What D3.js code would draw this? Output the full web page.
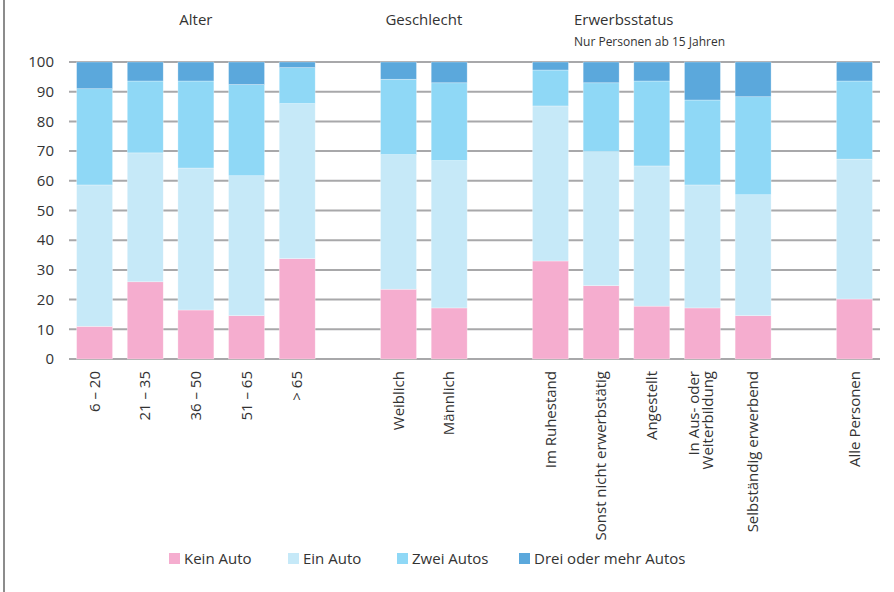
<!DOCTYPE html>
<html>
<head>
<meta charset="utf-8">
<script src="https://cdn.jsdelivr.net/npm/d3@7"></script>
<style>
  body { margin: 0; background: #fff; }
  svg text { font-family: "Open Sans", sans-serif; fill: #333; }
</style>
</head>
<body>
<div id="chart"></div>
<script>
// Categories (blank slots separate the groups)
const categories = ["6 – 20", "21 – 35", "36 – 50", "51 – 65", "> 65", "gap1",
    "Weiblich", "Männlich", "gap2",
    "Im Ruhestand", "Sonst nicht erwerbstätig", "Angestellt", "In Aus- oder|Weiterbildung", "Selbständig erwerbend", "gap3",
    "Alle Personen"];
const barCategories = categories.filter(c => !c.startsWith("gap"));

// Shares in percent, per series, same order as barCategories
const keinAuto  = [11, 26, 16.5, 14.6, 33.8, 23.5, 17.2, 33.0, 24.7, 17.8, 17.2, 14.6, 20.2];
const einAuto   = [47.6, 43.4, 47.8, 47.1, 52.2, 45.3, 49.6, 52.2, 45.1, 47.2, 41.4, 40.7, 47.1];
const zweiAutos = [32.4, 24.2, 29.3, 30.7, 12.1, 25.4, 26.2, 12.1, 23.2, 28.6, 28.6, 33.0, 26.3];
const dreiAutos = [9.0, 6.4, 6.4, 7.6, 1.9, 5.8, 7.0, 2.7, 7.0, 6.4, 12.8, 11.7, 6.4];

const seriesNames = ["Kein Auto", "Ein Auto", "Zwei Autos", "Drei oder mehr Autos"];
const colors = ["#F5ADCF", "#C6E9F8", "#8FD8F6", "#5BA8DC"];
const yTicks = [0, 10, 20, 30, 40, 50, 60, 70, 80, 90, 100];

const width = 894, height = 592;
const svg = d3.select("#chart").append("svg")
    .attr("width", width)
    .attr("height", height);

// left frame line
svg.append("line")
    .attr("x1", 4).attr("x2", 4).attr("y1", 0).attr("y2", height)
    .attr("stroke", "#8c8c8c").attr("stroke-width", 2);

const x = d3.scaleBand()
    .domain(categories)
    .range([69, 880])
    .paddingInner(0.29)
    .paddingOuter(0.15);

const y = d3.scaleLinear()
    .domain([0, 100])
    .range([359, 62]);

// Gridlines
svg.append("g")
    .selectAll("line")
    .data(yTicks)
    .enter().append("line")
    .attr("x1", 69).attr("x2", 880)
    .attr("y1", d => y(d)).attr("y2", d => y(d))
    .attr("stroke", "#a8a8aa")
    .attr("stroke-width", 2);

// Y labels
svg.append("g")
    .selectAll("text")
    .data(yTicks)
    .enter().append("text")
    .attr("x", 54)
    .attr("y", d => y(d))
    .attr("dy", "0.35em")
    .attr("text-anchor", "end")
    .attr("font-size", "15px")
    .text(d => d);

// Stack data
const rows = barCategories.map((c, i) => ({
    cat: c,
    "Kein Auto": keinAuto[i],
    "Ein Auto": einAuto[i],
    "Zwei Autos": zweiAutos[i],
    "Drei oder mehr Autos": dreiAutos[i]
}));
const stacked = d3.stack().keys(seriesNames)(rows);

svg.append("g")
    .selectAll("g")
    .data(stacked)
    .enter().append("g")
    .attr("fill", (d, i) => colors[i])
    .selectAll("rect")
    .data(d => d)
    .enter().append("rect")
    .attr("x", d => x(d.data.cat))
    .attr("width", x.bandwidth())
    .attr("y", d => y(Math.min(d[1], 100)))
    .attr("height", d => y(d[0]) - y(Math.min(d[1], 100)))
    .attr("stroke", "#ffffff")
    .attr("stroke-opacity", 0.5)
    .attr("stroke-width", 0.6);

// X labels, rotated
const xl = svg.append("g")
    .selectAll("text")
    .data(barCategories)
    .enter().append("text")
    .attr("transform", d => `translate(${x(d) + x.bandwidth() / 2}, 371) rotate(-90)`)
    .attr("text-anchor", "end")
    .attr("font-size", "15px");

xl.each(function(d) {
    const lines = d.split("|");
    const t = d3.select(this);
    lines.forEach((ln, j) => {
        t.append("tspan")
            .attr("x", 0)
            .attr("dy", j === 0 ? (lines.length === 1 ? "0.35em" : "-0.2em") : "0.9em")
            .text(ln);
    });
});

// Group titles
svg.append("text").attr("x", (x("6 – 20") + x("> 65") + x.bandwidth()) / 2).attr("y", 25)
    .attr("text-anchor", "middle").attr("font-size", "15px").text("Alter");
svg.append("text").attr("x", (x("Weiblich") + x("Männlich") + x.bandwidth()) / 2).attr("y", 25)
    .attr("text-anchor", "middle").attr("font-size", "15px").text("Geschlecht");
svg.append("text").attr("x", 574).attr("y", 25)
    .attr("font-size", "15px").text("Erwerbsstatus");
svg.append("text").attr("x", 574).attr("y", 46)
    .attr("font-size", "12px").text("Nur Personen ab 15 Jahren");

// Legend
const legendX = [169, 288, 397, 519];
const legend = svg.append("g")
    .selectAll("g")
    .data(seriesNames)
    .enter().append("g")
    .attr("transform", (d, i) => `translate(${legendX[i]}, 553)`);
legend.append("rect")
    .attr("width", 11).attr("height", 11)
    .attr("fill", (d, i) => colors[i]);
legend.append("text")
    .attr("x", 15).attr("y", 6)
    .attr("dy", "0.35em")
    .attr("font-size", "15px")
    .text(d => d);
</script>
</body>
</html>
